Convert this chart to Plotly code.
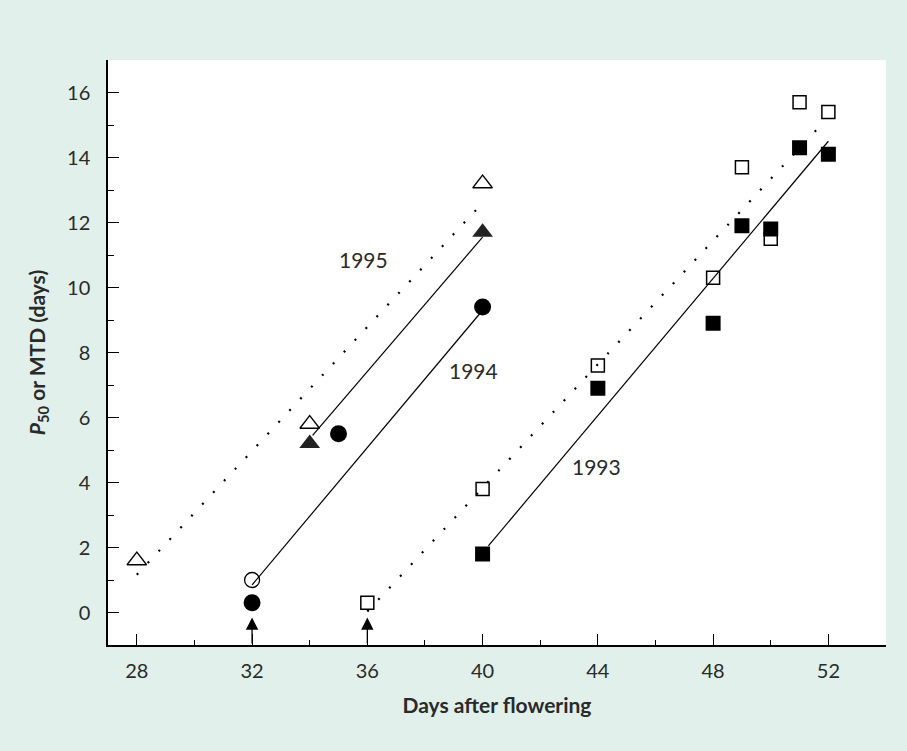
import plotly.graph_objects as go

# ---- data ----
x95_open = [28, 34, 40]
y95_open = [1.6, 5.8, 13.2]
x95_fill = [34, 40]
y95_fill = [5.2, 11.7]
fit95_open_x = [28, 40]
fit95_open_y = [1.16, 12.6]
fit95_fill_x = [34.1, 40]
fit95_fill_y = [5.45, 11.55]

x94_open = [32]
y94_open = [1.0]
x94_fill = [32, 35, 40]
y94_fill = [0.3, 5.5, 9.4]
fit94_x = [32, 40]
fit94_y = [0.85, 9.3]

x93_open = [36, 40, 44, 48, 49, 50, 51, 52]
y93_open = [0.3, 3.8, 7.6, 10.3, 13.7, 11.5, 15.7, 15.4]
x93_fill = [40, 44, 48, 49, 50, 51, 52]
y93_fill = [1.8, 6.9, 8.9, 11.9, 11.8, 14.3, 14.1]
fit93_open_x = [36, 51.85]
fit93_open_y = [0.03, 15.1]
fit93_fill_x = [40.2, 52]
fit93_fill_y = [2.05, 14.5]

arrow_x = [32, 36]
year_labels = ["1995", "1994", "1993"]
year_label_x = [35.85, 39.7, 43.95]
year_label_y = [10.85, 7.45, 4.5]

FONT = "Lato"
TXT = "#2a2a2a"
DOT = "2px,14px"

fig = go.Figure()

def line(xs, ys, dash=None, w=1.2):
    fig.add_trace(go.Scatter(x=xs, y=ys, mode="lines",
                             line=dict(color="black", width=(2.2 if dash else w), dash=dash),
                             hoverinfo="skip", showlegend=False))

def pts(xs, ys, symbol, size, color="black", lw=1.3):
    fig.add_trace(go.Scatter(x=xs, y=ys, mode="markers",
                             marker=dict(symbol=symbol, size=size, color=color,
                                         line=dict(color="#333333", width=lw)),
                             showlegend=False))

line(fit95_open_x, fit95_open_y, DOT)
line(fit95_fill_x, fit95_fill_y)
line(fit94_x, fit94_y)
line(fit93_open_x, fit93_open_y, DOT)
line(fit93_fill_x, fit93_fill_y)

pts(x95_open, y95_open, "triangle-up-open", 17)
pts(x95_fill, y95_fill, "triangle-up", 18, color="#222222", lw=0)
pts(x94_open, y94_open, "circle-open", 15)
pts(x94_fill, y94_fill, "circle", 17, lw=0)
pts(x93_open, y93_open, "square-open", 13, lw=1.5)
pts(x93_fill, y93_fill, "square", 15, lw=0)

annotations = []
for ax_ in arrow_x:
    annotations.append(dict(x=ax_, y=-0.15, ax=ax_, ay=-1, xref="x", yref="y",
                            axref="x", ayref="y", showarrow=True, arrowhead=2,
                            arrowsize=1.9, arrowwidth=1.3, arrowcolor="black", text=""))
for t, lx, ly in zip(year_labels, year_label_x, year_label_y):
    annotations.append(dict(x=lx, y=ly, xref="x", yref="y", text=t, showarrow=False,
                            font=dict(family=FONT, size=21, color=TXT)))

fig.update_layout(
    width=907, height=751,
    margin=dict(l=108, r=21, t=60, b=106),
    paper_bgcolor="#e1f0eb",
    plot_bgcolor="white",
    font=dict(family=FONT, color=TXT),
    annotations=annotations,
)
fig.update_xaxes(
    range=[27, 54], showgrid=False, zeroline=False,
    showline=True, linecolor="black", linewidth=1.5,
    ticks="inside", ticklen=11, tickwidth=1.3, tickcolor="black",
    tick0=28, dtick=4,
    minor=dict(dtick=2, ticks="inside", ticklen=5, tickwidth=1.3, tickcolor="black"),
    tickfont=dict(family=FONT, size=20, color=TXT),
    ticklabelstandoff=7,
    title=dict(text="<b>Days after flowering</b>", font=dict(family=FONT, size=21, color=TXT), standoff=18),
)
fig.update_yaxes(
    range=[-1, 17], showgrid=False, zeroline=False,
    showline=True, linecolor="black", linewidth=1.5,
    ticks="inside", ticklen=11, tickwidth=1.3, tickcolor="black",
    tick0=0, dtick=2,
    minor=dict(dtick=1, ticks="inside", ticklen=6, tickwidth=1.3, tickcolor="black"),
    tickfont=dict(family=FONT, size=20, color=TXT),
    ticklabelstandoff=12,
    title=dict(text="<b><i>P</i><sub>50</sub> or MTD (days)</b>", font=dict(family=FONT, size=21, color=TXT), standoff=16),
)

fig.write_html("out.html")
